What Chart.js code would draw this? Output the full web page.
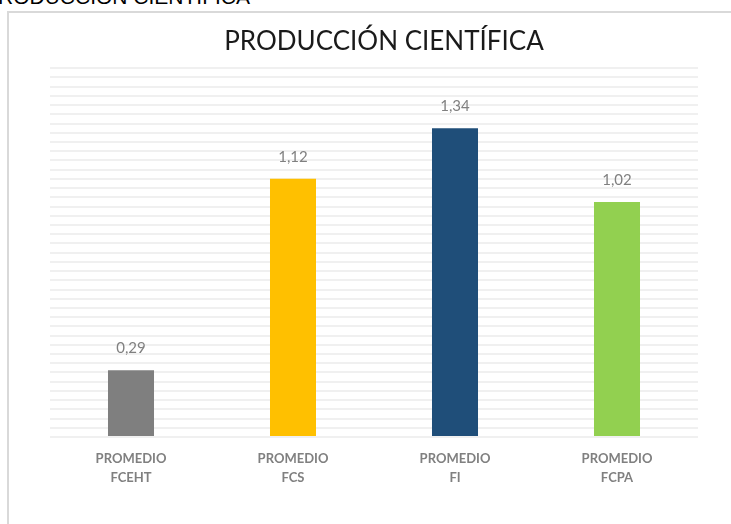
<!DOCTYPE html>
<html>
<head>
<meta charset="utf-8">
<script src="https://cdn.jsdelivr.net/npm/chart.js@4/dist/chart.umd.min.js"></script>
<style>
  html, body { margin: 0; padding: 0; background: #fff; overflow: hidden; }
  #wrap { position: relative; width: 731px; height: 524px; }
  #cut { position: absolute; left: -16px; top: -14px; font: 21px "Liberation Sans", Arial, sans-serif; line-height: 21px; color: #000; white-space: nowrap; }
  #frame { position: absolute; left: 7px; top: 11px; width: 800px; height: 600px; border: 2px solid #d9d9d9; }
  canvas { position: absolute; left: 0; top: 0; }
</style>
</head>
<body>
<div id="wrap">
  <div id="cut">PRODUCCIÓN CIENTÍFICA</div>
  <div id="frame"></div>
  <canvas id="chart" width="731" height="524"></canvas>
</div>
<script>
const chartTitle = "PRODUCCIÓN CIENTÍFICA";
const categories = [
  ["PROMEDIO", "FCEHT"],
  ["PROMEDIO", "FCS"],
  ["PROMEDIO", "FI"],
  ["PROMEDIO", "FCPA"],
];
const promedios = [0.29, 1.12, 1.34, 1.02];
const barColors = ["#7f7f7f", "#ffc000", "#1f4e79", "#92d050"];
const yMax = 1.6;
const yStep = 0.04;

function formatValue(v) {
  return v.toFixed(2).replace(".", ",");
}

// draws the value above each bar
const valueLabels = {
  id: "valueLabels",
  afterDatasetsDraw(chart) {
    const ctx = chart.ctx;
    ctx.save();
    ctx.font = "15px Lato, 'Open Sans', sans-serif";
    ctx.fillStyle = "#808080";
    ctx.textAlign = "center";
    ctx.textBaseline = "middle";
    chart.getDatasetMeta(0).data.forEach((bar, i) => {
      ctx.fillText(formatValue(chart.data.datasets[0].data[i]), bar.x, bar.y - 22);
    });
    ctx.restore();
  }
};

const ctx = document.getElementById("chart").getContext("2d");
const chart = new Chart(ctx, {
  type: "bar",
  data: {
    labels: categories,
    datasets: [
      {
        data: promedios,
        backgroundColor: barColors,
        barPercentage: 0.284,
        categoryPercentage: 1,
      },
    ],
  },
  options: {
    responsive: false,
    animation: false,
    layout: {
      padding: { left: 37, right: 0, top: 0, bottom: 25 },
    },
    plugins: {
      legend: { display: false },
      tooltip: { enabled: false },
      title: {
        display: true,
        text: chartTitle,
        color: "#1a1a1a",
        font: { family: "Lato, 'Open Sans', sans-serif", size: 26, weight: "normal", lineHeight: 1.2 },
        padding: { top: 26, bottom: 11 },
      },
    },
    scales: {
      x: {
        grid: { display: false, drawTicks: false },
        border: { display: false },
        ticks: {
          color: "#808080",
          padding: 12,
          font: { family: "Lato, 'Open Sans', sans-serif", size: 13, weight: "bold", lineHeight: 1.46 },
        },
      },
      y: {
        min: 0,
        max: yMax,
        grid: { color: "#f0f0f0", lineWidth: 2, drawTicks: false },
        border: { display: false },
        ticks: { display: false, stepSize: yStep, maxTicksLimit: 100 },
        afterFit: (scale) => { scale.width = 13; },
      },
      yRight: {
        position: "right",
        min: 0,
        max: yMax,
        grid: { display: false, drawTicks: false },
        border: { display: false },
        ticks: { display: false },
        afterFit: (scale) => { scale.width = 33; },
      },
    },
  },
  plugins: [valueLabels],
});
</script>
</body>
</html>
